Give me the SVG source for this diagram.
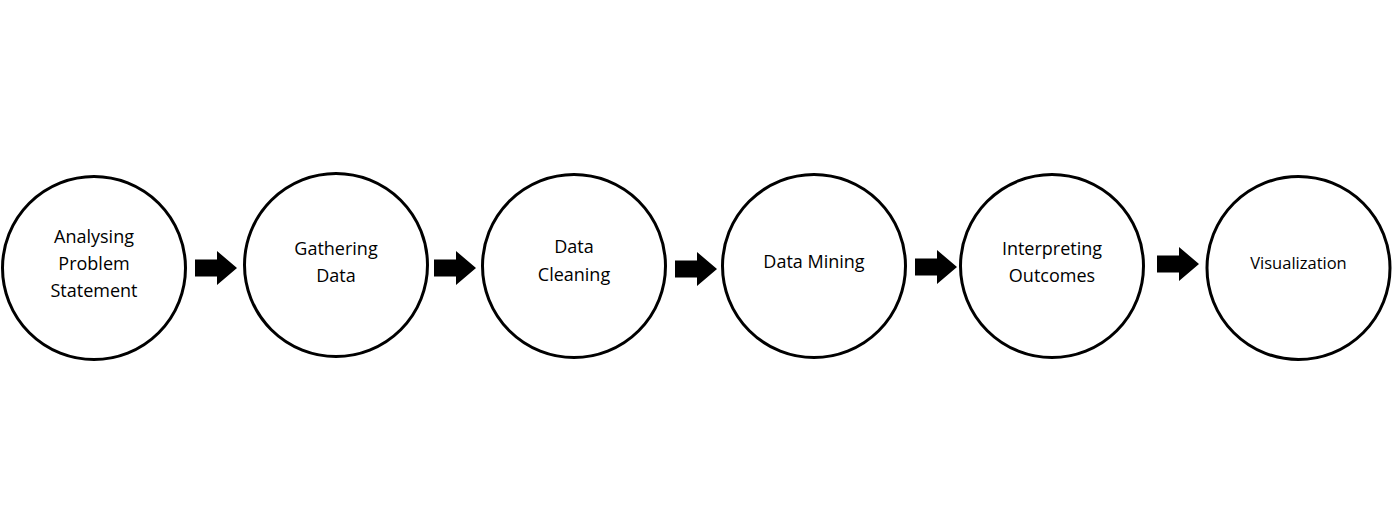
<svg xmlns="http://www.w3.org/2000/svg" width="1400" height="513" viewBox="0 0 1400 513">
<defs>
<style>
.node circle{fill:#fff;stroke:#000;stroke-width:3}
.node text{font-family:"Open Sans","Noto Sans",sans-serif;font-size:18px;fill:#000;text-anchor:middle}
.node text.sm{font-size:16.5px}
.arrow{fill:#000}
</style>
<path id="arr" d="M0,-8.5 H22 V-17 L42,0 L22,17 V8.5 H0 Z"/>
</defs>
<rect width="1400" height="513" fill="#fff"/>
<g id="connectors">
<use href="#arr" class="arrow" x="195" y="268"/>
<use href="#arr" class="arrow" x="434" y="268"/>
<use href="#arr" class="arrow" x="675" y="269"/>
<use href="#arr" class="arrow" x="915" y="267"/>
<use href="#arr" class="arrow" x="1157" y="264"/>
</g>
<g id="n1" class="node"><circle cx="94" cy="268" r="91.5"/><text x="94" y="243">Analysing</text><text x="94" y="270">Problem</text><text x="94" y="297">Statement</text></g>
<g id="n2" class="node"><circle cx="336" cy="265" r="91.5"/><text x="336" y="255">Gathering</text><text x="336" y="282">Data</text></g>
<g id="n3" class="node"><circle cx="574" cy="266" r="91.5"/><text x="574" y="253">Data</text><text x="574" y="281">Cleaning</text></g>
<g id="n4" class="node"><circle cx="814" cy="266" r="91.5"/><text x="814" y="268">Data Mining</text></g>
<g id="n5" class="node"><circle cx="1052" cy="266" r="91.5"/><text x="1052" y="255">Interpreting</text><text x="1052" y="282">Outcomes</text></g>
<g id="n6" class="node"><circle cx="1298.5" cy="268" r="91.5"/><text class="sm" x="1298.5" y="269">Visualization</text></g>
</svg>
